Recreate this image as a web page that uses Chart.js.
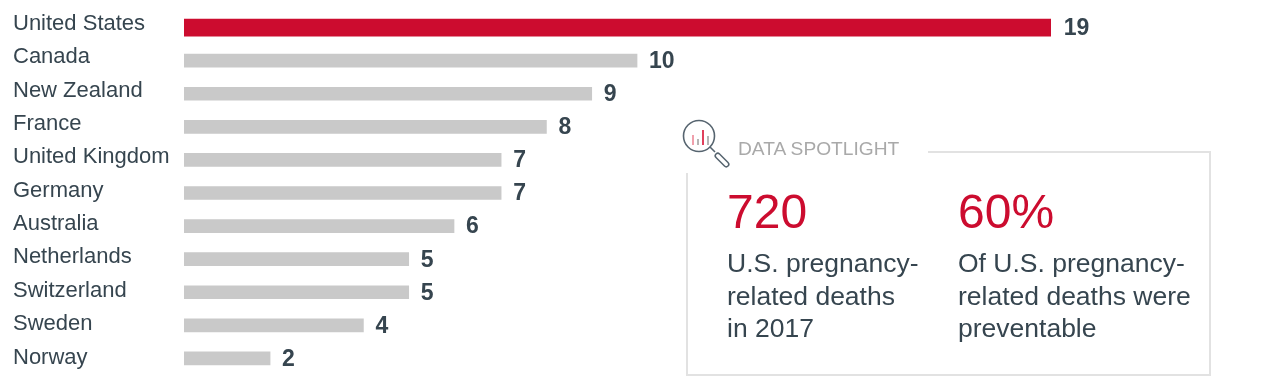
<!DOCTYPE html>
<html>
<head>
<meta charset="utf-8">
<script src="https://cdn.jsdelivr.net/npm/chart.js@4"></script>
<style>
    html, body { margin: 0; padding: 0; background: #fff; }
    body { width: 1264px; height: 390px; position: relative; overflow: hidden; font-family: "Liberation Sans", Arial, sans-serif; }
    #myChart { position: absolute; left: 0; top: 0; }
    .line { position: absolute; background: #e2e2e2; }
    .heading { position: absolute; left: 738px; top: 139px; font-size: 19.2px; line-height: 20px; color: #a9a9a9; white-space: nowrap; }
    .stat { position: absolute; top: 182px; }
    .big { font-size: 48px; line-height: 60px; color: #cc0c2f; }
    .txt { font-size: 26.5px; line-height: 32.5px; color: #36454f; margin-top: 5px; white-space: nowrap; }
    #icon { position: absolute; left: 681px; top: 119px; }
</style>
</head>
<body>
<canvas id="myChart" width="1264" height="390"></canvas>

<div class="line" style="left:686px;top:173px;width:2px;height:203px"></div>
<div class="line" style="left:686px;top:374px;width:525px;height:2px"></div>
<div class="line" style="left:1209px;top:152px;width:2px;height:224px"></div>
<div class="line" style="left:928px;top:151px;width:283px;height:2px"></div>

<svg id="icon" width="52" height="52" viewBox="0 0 52 52">
    <circle cx="18" cy="17" r="15.5" fill="none" stroke="#56646f" stroke-width="1.6"/>
    <rect x="11" y="16" width="2" height="10" fill="#f0a0ac"/>
    <rect x="16" y="20" width="2" height="6" fill="#b5b5b5"/>
    <rect x="21" y="11" width="2" height="15" fill="#e0405c"/>
    <rect x="26" y="17" width="2" height="9" fill="#b5b5b5"/>
    <line x1="29" y1="28" x2="34" y2="33" stroke="#56646f" stroke-width="1.6"/>
    <rect x="35" y="32.5" width="17" height="5" rx="2.5" transform="rotate(45 35 35)" fill="#fff" stroke="#56646f" stroke-width="1.5"/>
</svg>

<div class="heading">DATA SPOTLIGHT</div>
<div class="stat" style="left:727px">
    <div class="big">720</div>
    <div class="txt">U.S. pregnancy-<br>related deaths<br>in 2017</div>
</div>
<div class="stat" style="left:958px">
    <div class="big">60%</div>
    <div class="txt">Of U.S. pregnancy-<br>related deaths were<br>preventable</div>
</div>

<script>
const countries = ['United States', 'Canada', 'New Zealand', 'France', 'United Kingdom', 'Germany', 'Australia', 'Netherlands', 'Switzerland', 'Sweden', 'Norway'];
const redValues = [19.13, null, null, null, null, null, null, null, null, null, null];
const grayValues = [null, 10, 9, 8, 7, 7, 5.96, 4.96, 4.96, 3.96, 1.9];
const valueLabels = [19, 10, 9, 8, 7, 7, 6, 5, 5, 4, 2];

const textColor = '#36454f';

// country names on the left and the numbers at the end of each bar
const barText = {
    id: 'barText',
    afterDatasetsDraw(chart) {
        const ctx = chart.ctx;
        const x = chart.scales.x;
        const y = chart.scales.y;
        ctx.save();
        ctx.textBaseline = 'middle';
        countries.forEach((name, i) => {
            const yPos = y.getPixelForValue(i);
            ctx.textAlign = 'left';
            ctx.fillStyle = textColor;
            ctx.font = '22px "Liberation Sans", Arial, sans-serif';
            ctx.fillText(name, 13, yPos - 3.5 + i * 0.25);
            const isRed = redValues[i] !== null;
            const value = isRed ? redValues[i] : grayValues[i];
            ctx.font = 'bold 23px "Liberation Sans", Arial, sans-serif';
            ctx.fillText(valueLabels[i], x.getPixelForValue(value) + (isRed ? 13 : 12), yPos + 1);
        });
        ctx.restore();
    }
};

new Chart(document.getElementById('myChart'), {
    type: 'bar',
    data: {
        labels: countries,
        datasets: [
            { data: redValues, backgroundColor: '#cc0c2f', barThickness: 17, grouped: false },
            { data: grayValues, backgroundColor: '#c9c9c9', barThickness: 13, grouped: false }
        ]
    },
    options: {
        indexAxis: 'y',
        responsive: false,
        animation: false,
        layout: { padding: { left: 184, top: 11, right: 38, bottom: 15 } },
        plugins: { legend: { display: false }, tooltip: { enabled: false } },
        scales: {
            x: { display: false, min: 0, max: 23 },
            y: { display: false }
        }
    },
    plugins: [barText]
});
</script>
</body>
</html>
